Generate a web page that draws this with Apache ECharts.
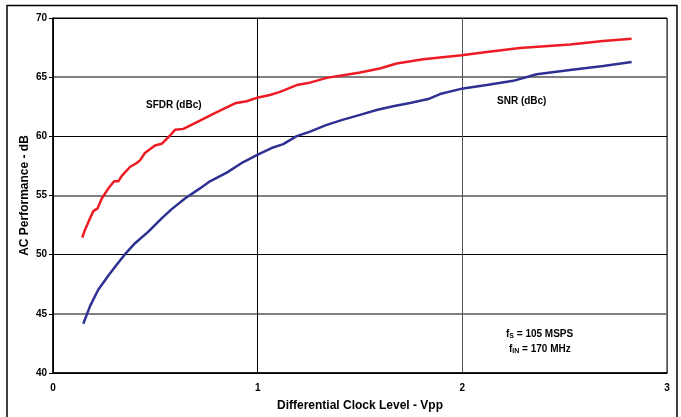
<!DOCTYPE html>
<html>
<head>
<meta charset="utf-8">
<script src="https://cdn.jsdelivr.net/npm/echarts@6/dist/echarts.min.js"></script>
<style>
html,body{margin:0;padding:0;background:#fff;}
#chart{width:681px;height:417px;}
</style>
</head>
<body>
<div id="chart"></div>
<script>
// Differential clock level (Vpp) vs dB
var sfdrX = [0.143,0.153,0.181,0.197,0.218,0.238,0.251,0.270,0.299,0.319,0.336,0.376,0.409,0.425,0.449,0.498,0.531,0.572,0.596,0.637,0.718,0.783,0.889,0.946,1.003,1.060,1.109,1.191,1.247,1.337,1.418,1.500,1.597,1.679,1.809,1.997,2.119,2.281,2.526,2.688,2.827];
var sfdrY = [51.45,51.95,53.07,53.68,53.91,54.75,55.08,55.59,56.20,56.20,56.66,57.41,57.75,57.97,58.59,59.23,59.37,60.07,60.55,60.63,61.33,61.89,62.79,62.96,63.29,63.49,63.76,64.33,64.50,64.94,65.17,65.39,65.73,66.15,66.51,66.85,67.13,67.46,67.77,68.05,68.25];
var snrX = [0.148,0.181,0.221,0.270,0.311,0.352,0.401,0.466,0.531,0.580,0.645,0.718,0.767,0.849,0.930,1.003,1.068,1.125,1.191,1.256,1.337,1.418,1.500,1.581,1.662,1.744,1.833,1.891,2.004,2.119,2.249,2.363,2.526,2.688,2.827];
var snrY = [44.16,45.65,47.04,48.22,49.14,50.04,50.97,51.95,53.07,53.85,54.75,55.60,56.20,56.93,57.83,58.47,59.01,59.34,60.02,60.40,60.97,61.41,61.81,62.23,62.54,62.82,63.15,63.57,64.05,64.33,64.69,65.25,65.61,65.95,66.29];
var xTicks = [0,1,2,3];
var yTicks = [40,45,50,55,60,65,70];

function pairs(xs, ys){ return xs.map(function(x,i){ return [x, ys[i]]; }); }

var chart = echarts.init(document.getElementById('chart'), null, {renderer:'canvas'});
var font = 'Liberation Sans, Arial, sans-serif';
chart.setOption({
  animation:false,
  backgroundColor:'#fff',
  grid:{left:53, right:14, top:18, bottom:39.5, show:true, borderColor:'#000', borderWidth:1},
  xAxis:{
    type:'value', min:xTicks[0], max:xTicks[xTicks.length-1], interval:1,
    name:'Differential Clock Level - Vpp', nameLocation:'middle', nameGap:27, nameMoveOverlap:false,
    nameTextStyle:{fontFamily:font, fontWeight:'bold', fontSize:12, color:'#000'},
    axisLine:{show:true, lineStyle:{color:'#000', width:1.5}},
    axisTick:{show:false},
    axisLabel:{fontFamily:font, fontWeight:'bold', fontSize:10, color:'#000', margin:10},
    splitLine:{show:true, lineStyle:{color:['#000','#000','#555','#555'], width:1}}
  },
  yAxis:[{
    type:'value', min:yTicks[0], max:yTicks[yTicks.length-1], interval:5,
    name:'AC Performance - dB', nameLocation:'middle', nameGap:22, nameMoveOverlap:false,
    nameTextStyle:{fontFamily:font, fontWeight:'bold', fontSize:12, color:'#000'},
    axisLine:{show:true, lineStyle:{color:'#000', width:1.5}},
    axisTick:{show:true, length:4, lineStyle:{color:'#000'}},
    axisLabel:{fontFamily:font, fontWeight:'bold', fontSize:10, color:'#000', margin:6},
    splitLine:{show:true, lineStyle:{color:['#000','rgba(0,0,0,0)'], width:1}}
  },{
    type:'value', min:yTicks[0], max:yTicks[yTicks.length-1], interval:5, position:'left',
    axisLine:{show:false}, axisTick:{show:false}, axisLabel:{show:false},
    splitLine:{show:true, lineStyle:{color:['rgba(0,0,0,0)','#808080'], width:2}}
  }],
  series:[{
    name:'SFDR (dBc)', type:'line', data:pairs(sfdrX, sfdrY), showSymbol:false,
    lineStyle:{color:'#ed1c24', width:2.5}, z:5
  },{
    name:'SNR (dBc)', type:'line', data:pairs(snrX, snrY), showSymbol:false,
    lineStyle:{color:'#2e3192', width:2.5}, z:5
  }],
  graphic:[
    {type:'line', shape:{x1:7, y1:5.5, x2:677, y2:5.5}, style:{stroke:'#000', lineWidth:1.5}},
    {type:'line', shape:{x1:7, y1:5, x2:7, y2:417}, style:{stroke:'#000', lineWidth:1.5}},
    {type:'line', shape:{x1:677, y1:5, x2:677, y2:417}, style:{stroke:'#000', lineWidth:1.5}},
    {type:'text', left:146, top:100, style:{text:'SFDR (dBc)', font:'bold 10px Liberation Sans, Arial, sans-serif', fill:'#000'}},
    {type:'text', left:497, top:96, style:{text:'SNR (dBc)', font:'bold 10px Liberation Sans, Arial, sans-serif', fill:'#000'}},
    {type:'text', left:506, top:329, style:{
      text:'{a|f}{s|S}{a| = 105 MSPS}',
      rich:{a:{fontFamily:font, fontWeight:'bold', fontSize:10, fill:'#000'}, s:{fontFamily:font, fontWeight:'bold', fontSize:7, fill:'#000', padding:[5,0,0,0]}}
    }},
    {type:'text', left:509, top:344, style:{
      text:'{a|f}{s|IN}{a| = 170 MHz}',
      rich:{a:{fontFamily:font, fontWeight:'bold', fontSize:10, fill:'#000'}, s:{fontFamily:font, fontWeight:'bold', fontSize:7, fill:'#000', padding:[5,0,0,0]}}
    }}
  ]
});
</script>
</body>
</html>
